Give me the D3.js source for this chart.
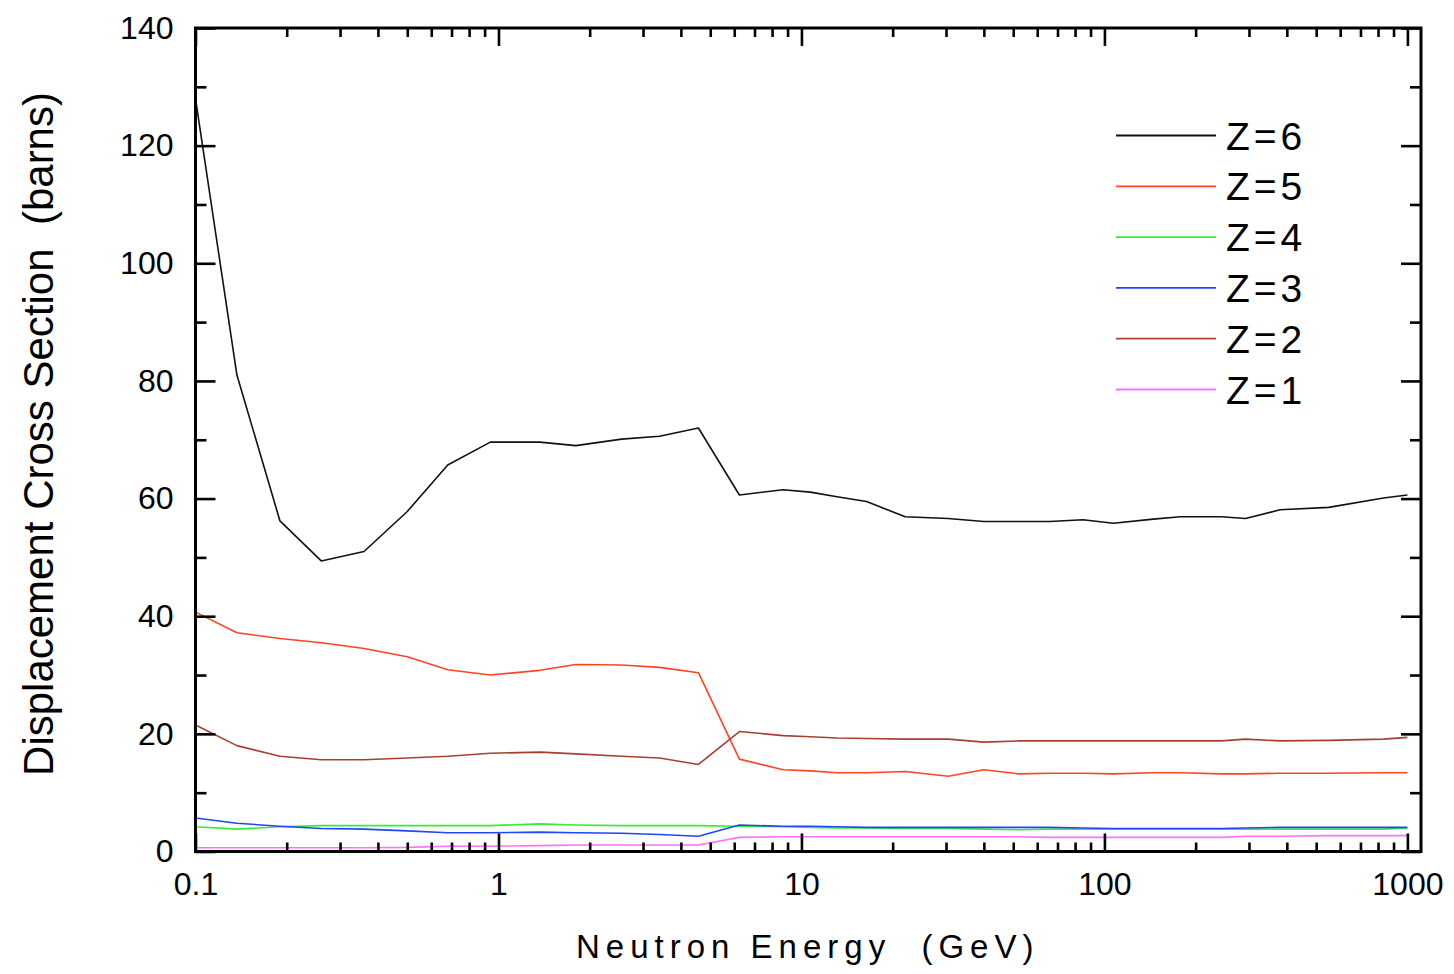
<!DOCTYPE html>
<html>
<head>
<meta charset="utf-8">
<script src="https://cdn.jsdelivr.net/npm/d3@7"></script>
<style>
  html, body { margin: 0; padding: 0; background: #fff; }
  svg { display: block; font-family: "Liberation Sans", Arial, sans-serif; }
  .title { white-space: pre; }
</style>
</head>
<body>
<svg id="chart" width="1454" height="974"></svg>
<script>
// Neutron energy grid (GeV) shared by all curves
const energy = [0.1, 0.137, 0.19, 0.26, 0.36, 0.5, 0.68, 0.94, 1.37, 1.8, 2.55, 3.4, 4.57,
  6.24, 8.7, 10.7, 13.1, 16.4, 22, 30.5, 40, 52, 66, 85, 107, 145, 178, 244, 292, 380, 550, 834, 1000];

// Displacement cross sections (barns) for each recoil charge Z
const z6 = [128, 81, 56.2, 49.4, 51.0, 57.8, 65.7, 69.6, 69.6, 69.0, 70.1, 70.6, 72.0,
  60.6, 61.5, 61.1, 60.3, 59.5, 56.9, 56.6, 56.1, 56.1, 56.1, 56.4, 55.8, 56.5, 56.9, 56.9, 56.6, 58.1, 58.5, 60.1, 60.6];
const z5 = [40.7, 37.2, 36.2, 35.5, 34.5, 33.1, 30.9, 30.0, 30.8, 31.8, 31.7, 31.3, 30.4,
  15.7, 13.9, 13.7, 13.4, 13.4, 13.6, 12.8, 13.9, 13.2, 13.3, 13.3, 13.2, 13.4, 13.4, 13.2, 13.2, 13.3, 13.3, 13.4, 13.4];
const z4 = [4.2, 3.8, 4.2, 4.4, 4.4, 4.4, 4.4, 4.4, 4.7, 4.5, 4.4, 4.4, 4.4,
  4.3, 4.2, 4.1, 4.0, 4.0, 3.9, 3.9, 3.8, 3.7, 3.8, 3.8, 3.8, 3.8, 3.8, 3.8, 3.8, 3.8, 3.8, 3.8, 4.0];
const z3 = [5.7, 4.8, 4.3, 3.9, 3.8, 3.5, 3.2, 3.2, 3.3, 3.2, 3.1, 2.9, 2.6,
  4.5, 4.3, 4.3, 4.2, 4.1, 4.1, 4.1, 4.1, 4.1, 4.1, 4.0, 3.9, 3.9, 3.9, 3.9, 4.0, 4.1, 4.1, 4.1, 4.1];
const z2 = [21.5, 18.0, 16.2, 15.6, 15.6, 15.9, 16.2, 16.7, 16.9, 16.6, 16.2, 15.9, 14.8,
  20.4, 19.7, 19.5, 19.3, 19.2, 19.1, 19.1, 18.6, 18.8, 18.8, 18.8, 18.8, 18.8, 18.8, 18.8, 19.1, 18.8, 18.9, 19.1, 19.4];
const z1 = [0.65, 0.65, 0.65, 0.65, 0.65, 0.7, 0.9, 0.9, 1.0, 1.1, 1.1, 1.1, 1.1,
  2.4, 2.5, 2.5, 2.5, 2.5, 2.5, 2.5, 2.5, 2.5, 2.4, 2.4, 2.4, 2.4, 2.4, 2.4, 2.6, 2.6, 2.7, 2.7, 2.7];

const seriesNames = ["Z=6", "Z=5", "Z=4", "Z=3", "Z=2", "Z=1"];
const seriesValues = [z6, z5, z4, z3, z2, z1];
const seriesColors = ["#111111", "#ff4422", "#33ee33", "#2244ff", "#a84030", "#ff70ff"];

const xMajorTicks = [0.1, 1, 10, 100, 1000];
const xTickLabels = ["0.1", "1", "10", "100", "1000"];
const yMajorTicks = [0, 20, 40, 60, 80, 100, 120, 140];
const yMinorTicks = [10, 30, 50, 70, 90, 110, 130];

const xTitle = "Neutron Energy  (GeV)";
const yTitle = "Displacement Cross Section  (barns)";

// ---- layout ----
const frame = { left: 195.5, right: 1421, top: 28, bottom: 851.5 };
const svg = d3.select("#chart");

const x = d3.scaleLog().domain([0.1, 1000]).range([frame.left, 1407.4]);
const y = d3.scaleLinear().domain([0, 140]).range([frame.bottom, frame.top]);

// minor log ticks 2..9 in each decade
const xMinorTicks = [];
for (let d = 0.1; d < 1000; d *= 10) {
  for (let k = 2; k <= 9; k++) xMinorTicks.push(+(d * k).toPrecision(3));
}

// ---- curves ----
const line = d3.line()
  .x((d, i) => x(energy[i]))
  .y(d => y(d));

const curves = svg.append("g");
seriesValues.forEach((vals, i) => {
  curves.append("path")
    .attr("d", line(vals))
    .attr("fill", "none")
    .attr("stroke", seriesColors[i])
    .attr("stroke-width", 1.6)
    .attr("stroke-linejoin", "round");
});

// ---- axes ----
function styleAxis(g) {
  g.select(".domain").remove();
  g.selectAll(".tick line").attr("stroke", "#000").attr("stroke-width", 2.6);
  g.selectAll(".tick text")
    .attr("fill", "#000")
    .style("font-size", "32px")
    .style("font-family", "'Liberation Sans', Arial, sans-serif");
}

const fmtX = v => xTickLabels[xMajorTicks.indexOf(v)];

svg.append("g").attr("transform", `translate(0,${frame.bottom})`)
  .call(d3.axisBottom(x).tickValues(xMajorTicks).tickSize(-18).tickPadding(21).tickFormat(fmtX))
  .call(styleAxis);
svg.append("g").attr("transform", `translate(0,${frame.bottom})`)
  .call(d3.axisBottom(x).tickValues(xMinorTicks).tickSize(-9).tickFormat(""))
  .call(styleAxis);
svg.append("g").attr("transform", `translate(0,${frame.top})`)
  .call(d3.axisTop(x).tickValues(xMajorTicks).tickSize(-18).tickFormat(""))
  .call(styleAxis);
svg.append("g").attr("transform", `translate(0,${frame.top})`)
  .call(d3.axisTop(x).tickValues(xMinorTicks).tickSize(-9).tickFormat(""))
  .call(styleAxis);

svg.append("g").attr("transform", `translate(${frame.left},0)`)
  .call(d3.axisLeft(y).tickValues(yMajorTicks).tickSize(-20).tickPadding(22).tickFormat(d3.format("d")))
  .call(styleAxis);
svg.append("g").attr("transform", `translate(${frame.left},0)`)
  .call(d3.axisLeft(y).tickValues(yMinorTicks).tickSize(-11).tickFormat(""))
  .call(styleAxis);
svg.append("g").attr("transform", `translate(${frame.right},0)`)
  .call(d3.axisRight(y).tickValues(yMajorTicks).tickSize(-20).tickFormat(""))
  .call(styleAxis);
svg.append("g").attr("transform", `translate(${frame.right},0)`)
  .call(d3.axisRight(y).tickValues(yMinorTicks).tickSize(-11).tickFormat(""))
  .call(styleAxis);

// frame
svg.append("rect")
  .attr("x", frame.left).attr("y", frame.top)
  .attr("width", frame.right - frame.left).attr("height", frame.bottom - frame.top)
  .attr("fill", "none").attr("stroke", "#000").attr("stroke-width", 3);

// ---- titles ----
svg.append("text")
  .attr("class", "title")
  .attr("x", 576).attr("y", 958)
  .style("font-size", "33px")
  .style("letter-spacing", "6px")
  .attr("fill", "#000")
  .text(xTitle);

svg.append("text")
  .attr("class", "title")
  .attr("transform", "translate(53,434) rotate(-90)")
  .attr("text-anchor", "middle")
  .style("font-size", "42px")
  .attr("fill", "#000")
  .text(yTitle);

// ---- legend ----
const legend = svg.append("g");
seriesNames.forEach((name, i) => {
  const ly = 135.5 + i * 50.8;
  legend.append("line")
    .attr("x1", 1116).attr("x2", 1216).attr("y1", ly).attr("y2", ly)
    .attr("stroke", seriesColors[i]).attr("stroke-width", 1.8);
  legend.append("text")
    .attr("x", 1226).attr("y", ly + 14)
    .style("font-size", "39px")
    .style("letter-spacing", "4px")
    .attr("fill", "#000")
    .text(name);
});
</script>
</body>
</html>
